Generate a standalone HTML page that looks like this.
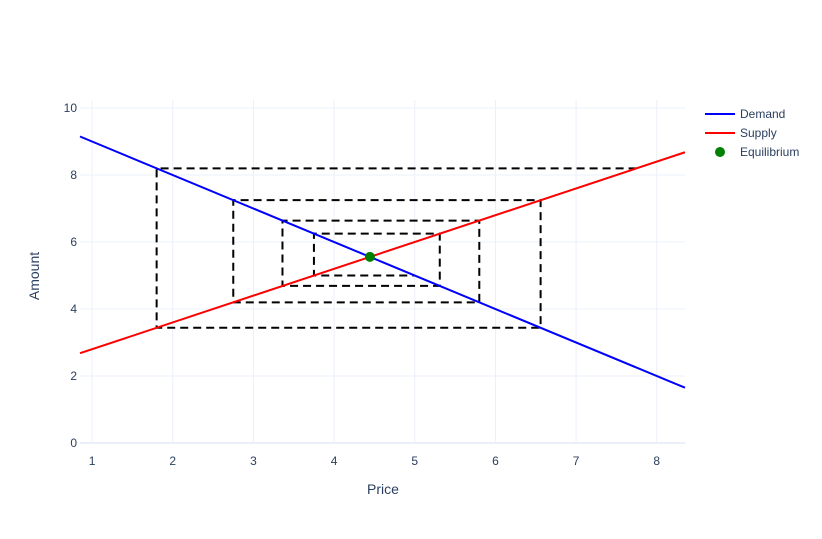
<!DOCTYPE html>
<html><head><meta charset="utf-8"><style>
body{margin:0;background:#fff;font-family:"Liberation Sans",sans-serif}
</style></head><body>
<svg id="chart" width="822" height="534" xmlns="http://www.w3.org/2000/svg" font-family="Liberation Sans, sans-serif">
<g id="grid"></g>
<g id="axes"></g>
<g id="marks"></g>
<text x="383" y="494" text-anchor="middle" font-size="14" fill="#2a3f5f">Price</text>
<text transform="translate(39,276) rotate(-90)" text-anchor="middle" font-size="14" fill="#2a3f5f">Amount</text>
<g font-size="12" fill="#2a3f5f">
<g><line x1="705" y1="114" x2="735" y2="114" stroke="#0000ff" stroke-width="2"/><text x="740" y="118">Demand</text></g>
<g><line x1="705" y1="133" x2="735" y2="133" stroke="#ff0000" stroke-width="2"/><text x="740" y="137">Supply</text></g>
<g><circle cx="720" cy="152" r="5" fill="#008000"/><text x="740" y="156">Equilibrium</text></g>
</g>
</svg>
<script>
const xTicks=[1,2,3,4,5,6,7,8];
const yTicks=[0,2,4,6,8,10];
const demandX=[0.85,8.35];
const demandY=[9.15,1.65];
const supplyX=[0.85,8.35];
const supplyY=[2.68,8.68];
const cobwebX=[7.75,1.8,1.8,6.56,6.56,2.75,2.75,5.8,5.8,3.36,3.36,5.31,5.31,3.75,3.75,5.0];
const cobwebY=[8.2,8.2,3.44,3.44,7.25,7.25,4.2,4.2,6.64,6.64,4.69,4.69,6.25,6.25,5.0,5.0];
const eqX=[4.444];
const eqY=[5.556];
const L=80,R=685,T=100,B=443;
const x0=0.85,x1=8.35,y0=0,y1=10.24;
const sx=v=>L+(v-x0)/(x1-x0)*(R-L);
const sy=v=>B-(v-y0)/(y1-y0)*(B-T);
const NS="http://www.w3.org/2000/svg";
function mk(tag,attrs,parent){const e=document.createElementNS(NS,tag);for(const k in attrs)e.setAttribute(k,attrs[k]);parent.appendChild(e);return e;}
const grid=document.getElementById('grid'),axes=document.getElementById('axes'),marks=document.getElementById('marks');
xTicks.forEach(t=>{const g=mk('line',{x1:sx(t),x2:sx(t),y1:T,y2:B,stroke:'#ebf0f8','stroke-width':1},grid);


const l=mk('text',{x:sx(t),y:B+22,'text-anchor':'middle','font-size':12,fill:'#2a3f5f'},axes);l.textContent=t;

});
yTicks.forEach(t=>{const g=mk('line',{x1:L,x2:R,y1:sy(t),y2:sy(t),stroke:t===0?'#ebf0f8':'#ebf0f8','stroke-width':t===0?2:1},grid);


const l=mk('text',{x:L-3,y:sy(t)+4,'text-anchor':'end','font-size':12,fill:'#2a3f5f'},axes);l.textContent=t;

});
const cw=mk('path',{d:cobwebX.map((v,i)=>(i?'L':'M')+sx(v)+','+sy(cobwebY[i])).join(''),fill:'none',stroke:'#000','stroke-width':2,'stroke-dasharray':'8,5'},marks);


const d=mk('path',{d:demandX.map((v,i)=>(i?'L':'M')+sx(v)+','+sy(demandY[i])).join(''),fill:'none',stroke:'#0000ff','stroke-width':2},marks);


const s=mk('path',{d:supplyX.map((v,i)=>(i?'L':'M')+sx(v)+','+sy(supplyY[i])).join(''),fill:'none',stroke:'#ff0000','stroke-width':2},marks);


eqX.forEach((v,i)=>{const c=mk('circle',{cx:sx(v),cy:sy(eqY[i]),r:5,fill:'#008000'},marks);

});
</script>
</body></html>
